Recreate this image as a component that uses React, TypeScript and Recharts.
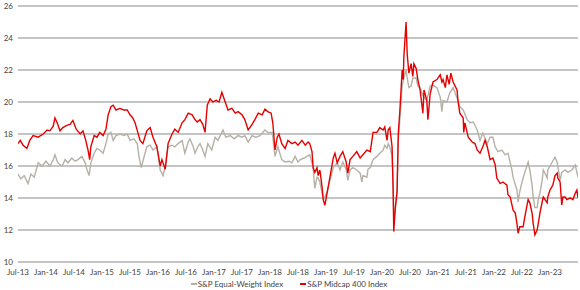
import React from "react";
import { LineChart, Line, XAxis, YAxis, CartesianGrid, Legend } from "recharts";

// time in decimal years, value
const equalWeight: [number, number][] = [
  [2013.5, 15.5], [2013.55, 15.2], [2013.61, 15.4], [2013.68, 14.9], [2013.73, 15.5], [2013.79, 15.3],
  [2013.86, 16.2], [2013.93, 16.0], [2014.0, 16.3], [2014.07, 16.0], [2014.13, 16.4], [2014.16, 16.7],
  [2014.21, 16.2], [2014.29, 16.0], [2014.34, 16.4], [2014.39, 16.2], [2014.46, 16.5], [2014.52, 16.3],
  [2014.57, 16.4], [2014.64, 16.6], [2014.7, 16.2], [2014.73, 15.8], [2014.77, 15.4], [2014.8, 16.2],
  [2014.86, 16.8], [2014.91, 17.1], [2014.96, 17.0], [2015.02, 16.8], [2015.07, 17.4], [2015.11, 18.0],
  [2015.16, 18.1], [2015.2, 17.6], [2015.25, 17.9], [2015.32, 18.0], [2015.39, 17.9], [2015.45, 18.0],
  [2015.5, 17.6], [2015.57, 17.7], [2015.63, 17.4], [2015.66, 16.6], [2015.7, 15.9], [2015.73, 16.3],
  [2015.8, 17.2], [2015.86, 17.3], [2015.91, 17.0], [2015.98, 17.2], [2016.04, 15.75], [2016.09, 15.4],
  [2016.13, 16.0], [2016.18, 17.2], [2016.25, 17.3], [2016.3, 17.2], [2016.36, 17.4], [2016.43, 17.6],
  [2016.48, 16.8], [2016.54, 17.5], [2016.57, 17.7], [2016.63, 17.2], [2016.66, 16.8], [2016.71, 17.2],
  [2016.75, 17.4], [2016.8, 17.0], [2016.84, 16.6], [2016.89, 17.4], [2016.96, 17.0], [2017.02, 17.8],
  [2017.07, 17.6], [2017.16, 18.25], [2017.21, 17.8], [2017.29, 17.9], [2017.36, 17.7], [2017.43, 17.9],
  [2017.5, 17.8], [2017.55, 17.9], [2017.61, 17.5], [2017.68, 17.9], [2017.75, 17.8], [2017.82, 17.9],
  [2017.91, 18.25], [2017.96, 18.1], [2018.04, 18.1], [2018.05, 17.8], [2018.09, 16.6], [2018.14, 17.2],
  [2018.21, 16.4], [2018.27, 16.25], [2018.34, 16.3], [2018.39, 16.2], [2018.45, 16.6], [2018.5, 16.25],
  [2018.54, 16.4], [2018.61, 16.5], [2018.66, 16.6], [2018.71, 16.7], [2018.77, 15.9], [2018.8, 14.6],
  [2018.84, 15.3], [2018.86, 15.25], [2018.89, 15.0], [2018.93, 14.3], [2018.96, 13.9], [2019.02, 14.4],
  [2019.07, 15.1], [2019.13, 15.9], [2019.2, 16.2], [2019.25, 15.75], [2019.3, 16.25], [2019.36, 15.8],
  [2019.39, 15.1], [2019.43, 15.75], [2019.48, 15.9], [2019.55, 15.75], [2019.61, 15.55], [2019.64, 15.0],
  [2019.66, 15.4], [2019.73, 15.3], [2019.75, 15.8], [2019.79, 15.9], [2019.84, 16.4], [2019.91, 16.6],
  [2019.96, 16.8], [2020.02, 17.0], [2020.05, 17.3], [2020.09, 17.1], [2020.11, 17.4], [2020.14, 17.2],
  [2020.18, 16.6], [2020.2, 14.8], [2020.21, 12.6], [2020.25, 13.6], [2020.27, 14.8], [2020.29, 17.5],
  [2020.32, 19.0], [2020.36, 21.0], [2020.39, 21.5], [2020.43, 22.0], [2020.45, 21.5], [2020.48, 20.9],
  [2020.52, 21.0], [2020.55, 21.5], [2020.61, 21.5], [2020.64, 21.0], [2020.68, 20.9], [2020.73, 20.4],
  [2020.8, 20.1], [2020.86, 21.0], [2020.91, 21.06], [2020.98, 20.9], [2021.04, 20.3], [2021.07, 19.4],
  [2021.09, 20.1], [2021.16, 20.0], [2021.21, 20.56], [2021.27, 20.9], [2021.34, 20.25], [2021.39, 19.7],
  [2021.45, 19.5], [2021.52, 18.9], [2021.57, 18.7], [2021.63, 18.75], [2021.7, 18.25], [2021.75, 17.6],
  [2021.8, 18.06], [2021.88, 17.4], [2021.93, 17.8], [2021.98, 17.8], [2022.02, 17.2], [2022.07, 16.9],
  [2022.14, 17.0], [2022.2, 16.7], [2022.25, 16.8], [2022.32, 15.75], [2022.34, 15.3], [2022.41, 14.5],
  [2022.43, 13.75], [2022.46, 14.4], [2022.5, 15.0], [2022.55, 15.6], [2022.61, 16.25], [2022.64, 15.75],
  [2022.68, 14.8], [2022.7, 14.06], [2022.73, 13.4], [2022.77, 13.4], [2022.79, 13.9], [2022.82, 14.3],
  [2022.86, 15.1], [2022.88, 15.75], [2022.95, 15.25], [2022.96, 15.75], [2023.04, 16.25], [2023.09, 16.56],
  [2023.13, 16.2], [2023.18, 15.1], [2023.21, 15.6], [2023.27, 15.75], [2023.32, 15.6], [2023.39, 15.75],
  [2023.45, 16.06], [2023.5, 15.3],
];

const midcap400: [number, number][] = [
  [2013.5, 17.4], [2013.54, 17.6], [2013.59, 17.3], [2013.66, 17.1], [2013.71, 17.6], [2013.77, 17.9],
  [2013.86, 17.8], [2013.95, 18.0], [2014.02, 18.25], [2014.07, 18.2], [2014.13, 18.5], [2014.16, 19.0],
  [2014.2, 18.7], [2014.25, 18.2], [2014.3, 18.4], [2014.38, 18.55], [2014.43, 18.6], [2014.48, 18.85],
  [2014.54, 18.3], [2014.61, 18.0], [2014.66, 18.2], [2014.71, 17.6], [2014.75, 17.0], [2014.78, 16.4],
  [2014.8, 17.2], [2014.86, 17.9], [2014.91, 17.8], [2014.96, 18.1], [2015.02, 17.9], [2015.07, 18.3],
  [2015.11, 19.2], [2015.16, 19.7], [2015.2, 19.8], [2015.25, 19.5], [2015.32, 19.6], [2015.39, 19.5],
  [2015.45, 19.5], [2015.5, 19.2], [2015.55, 19.0], [2015.59, 18.7], [2015.64, 18.1], [2015.68, 17.6],
  [2015.73, 17.4], [2015.8, 18.2], [2015.86, 18.4], [2015.91, 17.8], [2015.98, 17.2], [2016.04, 16.0],
  [2016.07, 16.4], [2016.13, 15.8], [2016.18, 17.4], [2016.25, 18.0], [2016.3, 18.3], [2016.36, 18.1],
  [2016.43, 18.7], [2016.48, 18.9], [2016.54, 19.3], [2016.61, 19.2], [2016.66, 18.9], [2016.7, 18.75],
  [2016.75, 18.9], [2016.8, 18.6], [2016.84, 18.1], [2016.88, 19.8], [2016.93, 20.2], [2016.98, 20.0],
  [2017.04, 20.1], [2017.09, 20.0], [2017.14, 20.6], [2017.2, 20.0], [2017.25, 19.5], [2017.32, 19.6],
  [2017.38, 19.3], [2017.43, 19.4], [2017.5, 19.2], [2017.55, 18.9], [2017.61, 18.25], [2017.68, 18.6],
  [2017.73, 18.9], [2017.79, 19.3], [2017.86, 19.2], [2017.91, 19.55], [2017.96, 19.4], [2018.02, 19.3],
  [2018.05, 18.7], [2018.09, 17.0], [2018.13, 17.8], [2018.16, 18.0], [2018.21, 17.4], [2018.27, 17.1],
  [2018.32, 17.6], [2018.39, 17.4], [2018.45, 17.5], [2018.5, 17.3], [2018.57, 17.6], [2018.63, 17.3],
  [2018.68, 17.5], [2018.71, 17.4], [2018.75, 16.9], [2018.77, 15.9], [2018.8, 15.6], [2018.84, 15.9],
  [2018.86, 15.4], [2018.89, 15.75], [2018.93, 14.7], [2018.95, 13.9], [2018.98, 13.55], [2019.02, 14.3],
  [2019.07, 15.3], [2019.13, 16.5], [2019.16, 16.8], [2019.2, 16.2], [2019.25, 16.6], [2019.3, 16.9],
  [2019.36, 16.25], [2019.39, 15.55], [2019.43, 16.4], [2019.48, 16.6], [2019.55, 16.9], [2019.61, 16.5],
  [2019.66, 16.7], [2019.73, 17.0], [2019.79, 16.9], [2019.82, 17.6], [2019.84, 18.1], [2019.91, 18.1],
  [2019.96, 18.4], [2020.02, 18.25], [2020.05, 18.45], [2020.09, 17.6], [2020.11, 18.25], [2020.14, 18.4],
  [2020.18, 17.2], [2020.2, 14.3], [2020.21, 11.9], [2020.24, 13.5], [2020.27, 14.4], [2020.29, 18.0],
  [2020.32, 19.5], [2020.36, 22.0], [2020.38, 21.4], [2020.39, 22.8], [2020.43, 25.0], [2020.45, 23.0],
  [2020.48, 21.8], [2020.52, 22.4], [2020.55, 21.6], [2020.57, 22.4], [2020.61, 22.1], [2020.64, 21.4],
  [2020.68, 20.75], [2020.73, 19.3], [2020.75, 20.75], [2020.8, 20.1], [2020.82, 18.9], [2020.86, 20.5],
  [2020.91, 21.25], [2020.98, 21.4], [2021.04, 21.7], [2021.07, 21.25], [2021.09, 21.4], [2021.13, 20.9],
  [2021.16, 21.7], [2021.2, 21.1], [2021.23, 21.8], [2021.27, 21.25], [2021.34, 20.75], [2021.36, 20.0],
  [2021.39, 19.3], [2021.45, 19.0], [2021.46, 18.1], [2021.48, 18.7], [2021.54, 17.8], [2021.61, 17.5],
  [2021.66, 17.4], [2021.7, 17.0], [2021.75, 16.8], [2021.8, 17.2], [2021.84, 17.6], [2021.88, 17.2],
  [2021.93, 16.4], [2021.98, 16.5], [2022.02, 16.1], [2022.05, 15.25], [2022.11, 14.9], [2022.16, 15.0],
  [2022.23, 14.8], [2022.25, 14.2], [2022.29, 14.06], [2022.34, 13.25], [2022.38, 13.06], [2022.41, 12.4],
  [2022.43, 11.8], [2022.46, 12.2], [2022.52, 12.2], [2022.55, 12.8], [2022.59, 13.56], [2022.61, 13.9],
  [2022.64, 13.7], [2022.68, 13.06], [2022.7, 12.4], [2022.73, 11.7], [2022.77, 12.0], [2022.79, 12.4],
  [2022.82, 13.06], [2022.86, 13.75], [2022.88, 14.06], [2022.95, 13.7], [2022.96, 14.06], [2023.0, 14.5],
  [2023.05, 14.8], [2023.09, 15.4], [2023.13, 15.55], [2023.14, 15.25], [2023.18, 15.0], [2023.21, 13.56],
  [2023.23, 14.06], [2023.27, 14.06], [2023.3, 13.9], [2023.36, 14.0], [2023.41, 13.9], [2023.45, 14.3],
  [2023.48, 14.5], [2023.5, 14.0],
];

const xTicks = [
  2013.5, 2014, 2014.5, 2015, 2015.5, 2016, 2016.5, 2017, 2017.5, 2018, 2018.5,
  2019, 2019.5, 2020, 2020.5, 2021, 2021.5, 2022, 2022.5, 2023,
];
const yTicks = [10, 12, 14, 16, 18, 20, 22, 24, 26];

const seriesNames = ["S&P Equal-Weight Index", "S&P Midcap 400 Index"];
const seriesColors = ["#b6b1a7", "#e60000"];

const FONT = "Lato, 'Liberation Sans', sans-serif";
const TEXT = "#444444";

const toRows = (arr: [number, number][]) => arr.map(([t, v]) => ({ t, v }));

const fmtX = (t: number) => {
  const year = Math.floor(t + 1e-6);
  const half = t - year > 0.25;
  return `${half ? "Jul" : "Jan"}-${String(year).slice(2)}`;
};

const renderLegend = () => (
  <div
    style={{
      display: "flex",
      justifyContent: "center",
      gap: 17,
      height: 12,
      lineHeight: "12px",
      fontFamily: FONT,
      fontSize: 8,
      color: TEXT,
    }}
  >
    {seriesNames.map((name, i) => (
      <div key={name} style={{ display: "flex", alignItems: "center" }}>
        <span
          style={{
            display: "inline-block",
            width: 6,
            height: 1.5,
            background: seriesColors[i],
            marginRight: 1,
          }}
        />
        <span>{name}</span>
      </div>
    ))}
  </div>
);

export default function App() {
  return (
    <div style={{ position: "fixed", left: 0, top: 0, background: "#fff" }}>
      <LineChart width={580} height={290} margin={{ top: 6, right: 2, bottom: 0, left: 0 }}>
        <CartesianGrid vertical={false} stroke="#8a8a8a" strokeWidth={1} />
        <XAxis
          dataKey="t"
          type="number"
          domain={[2013.5, 2023.5]}
          ticks={xTicks}
          interval={0}
          tickFormatter={fmtX}
          axisLine={false}
          tickLine={false}
          tickSize={5}
          tickMargin={2}
          height={16}
          tick={{ fontSize: 8, fill: TEXT, fontFamily: FONT }}
          allowDataOverflow
        />
        <YAxis
          type="number"
          domain={[10, 26]}
          ticks={yTicks}
          interval={0}
          axisLine={false}
          tickLine={false}
          tickSize={3}
          tickMargin={2}
          width={18}
          tick={{ fontSize: 8, fill: TEXT, fontFamily: FONT }}
        />
        <Legend verticalAlign="bottom" height={12} content={renderLegend} />
        <Line
          data={toRows(equalWeight)}
          dataKey="v"
          name={seriesNames[0]}
          stroke={seriesColors[0]}
          strokeWidth={1.4}
          dot={false}
          isAnimationActive={false}
          type="linear"
        />
        <Line
          data={toRows(midcap400)}
          dataKey="v"
          name={seriesNames[1]}
          stroke={seriesColors[1]}
          strokeWidth={1.4}
          dot={false}
          isAnimationActive={false}
          type="linear"
        />
      </LineChart>
    </div>
  );
}
